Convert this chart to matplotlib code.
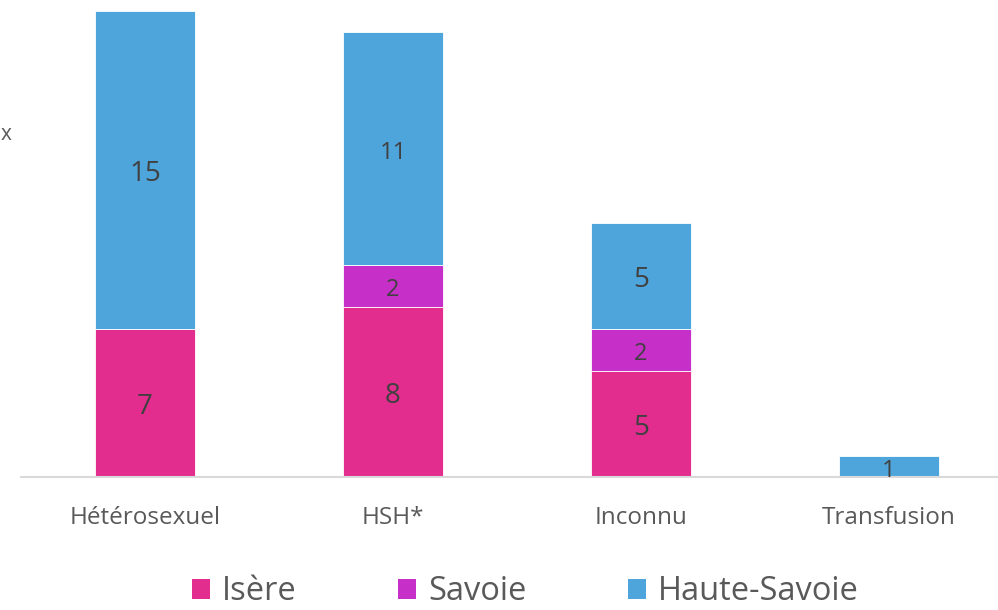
import numpy as np
import matplotlib.pyplot as plt
from matplotlib.patches import Patch

plt.rcParams['font.family'] = ['Open Sans', 'DejaVu Sans']

categories = ['Hétérosexuel', 'HSH*', 'Inconnu', 'Transfusion']
isere = [7, 8, 5, 0]
savoie = [0, 2, 2, 0]
haute_savoie = [15, 11, 5, 1]

series = ['Isère', 'Savoie', 'Haute-Savoie']
colors = ['#E32D8E', '#C62FC8', '#4EA5DC']

fig = plt.figure(figsize=(9.98, 6.10), dpi=100)
ax = fig.add_axes([21 / 998, 133 / 610, 977 / 998, 477 / 610])

x = np.arange(len(categories))
width = 0.403
bottom = np.zeros(len(categories))
for name, vals, col in zip(series, [isere, savoie, haute_savoie], colors):
    vals = np.array(vals, dtype=float)
    ax.bar(x, vals, width, bottom=bottom, color=col, edgecolor='white',
           linewidth=0.6, label=name, zorder=2)
    # etiquettes des valeurs
    for xi, b, v in zip(x, bottom, vals):
        if v > 0:
            fs = 20 if v in (5, 7, 8, 15) else 17
            ax.annotate('%d' % v, (xi, b + v / 2), xytext=(0, -3),
                        textcoords='offset points', ha='center', va='center',
                        fontsize=fs, color='#404040', zorder=3)
    bottom += vals

ax.set_xlim(-0.5, -0.5 + 977 / 248)
ax.set_ylim(0, 477 / 21.2)
ax.set_yticks([])
ax.set_xticks(x)
ax.set_xticklabels(categories, fontsize=17.5, color='#595959')
ax.tick_params(axis='x', length=0, pad=21)
for s in ['top', 'right', 'left']:
    ax.spines[s].set_visible(False)
ax.spines['bottom'].set_color('#D9D9D9')
ax.spines['bottom'].set_linewidth(1.5)

fig.text(0.001, 1 - 135 / 610, 'x', ha='left', va='center', fontsize=15, color='#595959')

handles = [Patch(facecolor=c, edgecolor='none') for c in colors]
fig.legend(handles, series, loc='center', bbox_to_anchor=(0.5266, 1 - 592 / 610),
           ncol=3, frameon=False, fontsize=23.5, labelcolor='#595959',
           handlelength=0.55, handleheight=0.55, handletextpad=0.37, columnspacing=3.1)

fig.savefig('out.png', dpi=100)
